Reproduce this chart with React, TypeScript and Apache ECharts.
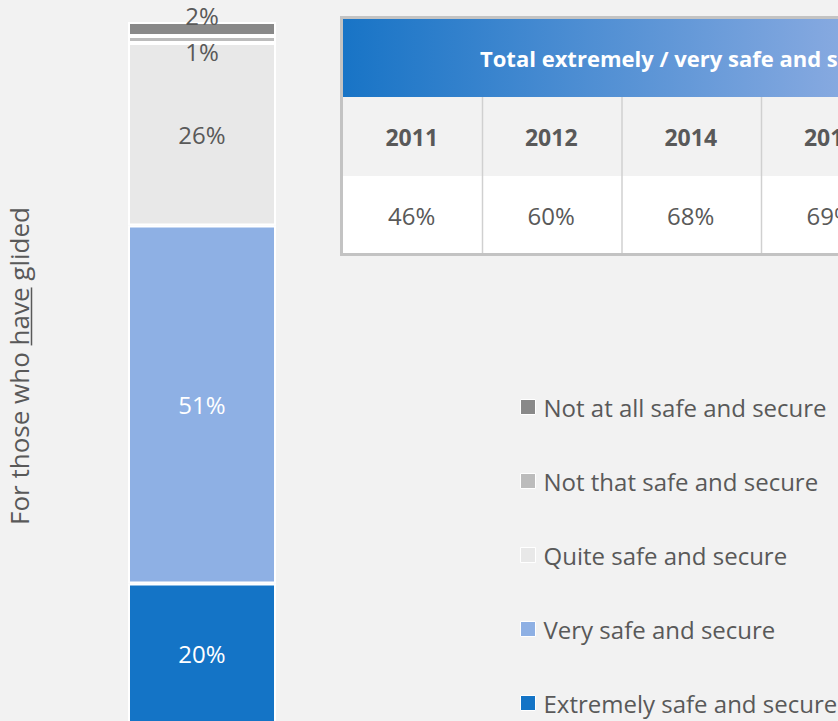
import React, { useEffect, useRef } from 'react';
import * as echarts from 'echarts';

const categories = ['For those who have glided'];
const seriesNames = [
  'Extremely safe and secure',
  'Very safe and secure',
  'Quite safe and secure',
  'Not that safe and secure',
  'Not at all safe and secure',
];
const seriesValues = [20, 51, 26, 1, 2];
const seriesColors = ['#1474c6', '#8eb0e4', '#e8e8e8', '#bcbcbc', '#898989'];
const labelColors = ['#ffffff', '#ffffff', '#595959', '#595959', '#595959'];
const legendOrder = [...seriesNames].reverse();

const titleParts = ['For those who ', 'have', ' glided'];
const tableTitle = 'Total extremely / very safe and secure';
const tableYears = ['2011', '2012', '2014', '2016'];
const tableValues = ['46%', '60%', '68%', '69%'];

const FONT = '"Open Sans", sans-serif';
const GREY = '#595959';

function measure(text: string, font: string): number {
  const c = document.createElement('canvas').getContext('2d');
  if (!c) return text.length * 12;
  c.font = font;
  return c.measureText(text).width;
}

export default function App() {
  const ref = useRef<HTMLDivElement>(null);
  useEffect(() => {
    if (!ref.current) return;
    const chart = echarts.init(ref.current, undefined, { renderer: 'svg' });

    // rotated y title with underline on "have"
    const tFont = `26px ${FONT}`;
    const w = titleParts.map((p) => measure(p, '26px "Open Sans"'));
    const total = w.reduce((a, b) => a + b, 0);
    let cx = -total / 2;
    const titleChildren: any[] = [];
    titleParts.forEach((p, i) => {
      titleChildren.push({
        type: 'text',
        x: cx,
        y: 0,
        style: { text: p, font: tFont, fill: GREY, align: 'left', verticalAlign: 'middle' },
      });
      if (i === 1) {
        titleChildren.push({
          type: 'line',
          shape: { x1: cx, y1: 12.5, x2: cx + w[i], y2: 12.5 },
          style: { stroke: GREY, lineWidth: 1.5 },
        });
      }
      cx += w[i];
    });

    // table
    const tx = 343;
    const colW = 139.5;
    const tableEls: any[] = [
      {
        type: 'rect',
        shape: { x: tx, y: 19, width: 495, height: 78 },
        style: {
          fill: new echarts.graphic.LinearGradient(0, 0, 1, 0, [
            { offset: 0, color: '#1874c6' },
            { offset: 1, color: '#86a9e0' },
          ]),
        },
      },
      { type: 'rect', shape: { x: tx, y: 97, width: 495, height: 79 }, style: { fill: '#f2f2f2' } },
      { type: 'rect', shape: { x: tx, y: 176, width: 495, height: 77 }, style: { fill: '#ffffff' } },
      {
        type: 'rect',
        shape: { x: 341.5, y: 17.5, width: 800, height: 237 },
        style: { fill: 'none', stroke: '#c3c3c3', lineWidth: 3 },
      },
      {
        type: 'text',
        x: 480,
        y: 58,
        style: {
          text: tableTitle,
          font: `bold 22px ${FONT}`,
          fill: '#ffffff',
          align: 'left',
          verticalAlign: 'middle',
        },
      },
    ];
    tableYears.forEach((yr, i) => {
      const c = tx + colW * i + colW / 2 - 1;
      if (i > 0) {
        tableEls.push({
          type: 'line',
          shape: { x1: tx + colW * i, y1: 97, x2: tx + colW * i, y2: 253 },
          style: { stroke: '#d0d0d0', lineWidth: 1.5 },
        });
      }
      tableEls.push({
        type: 'text',
        x: c,
        y: 137,
        style: { text: yr, font: `bold 23px ${FONT}`, fill: GREY, align: 'center', verticalAlign: 'middle' },
      });
      tableEls.push({
        type: 'text',
        x: c,
        y: 215,
        style: { text: tableValues[i], font: `24px ${FONT}`, fill: GREY, align: 'center', verticalAlign: 'middle' },
      });
    });

    const series = seriesNames.map((name, i) => {
      let label: any = {
        show: true,
        position: 'inside',
        formatter: '{c}%',
        color: labelColors[i],
        fontSize: 24,
        fontFamily: FONT,
      };
      if (i === 3) label = { ...label, position: 'bottom', distance: -4 };
      if (i === 4) label = { ...label, position: 'top', distance: -5 };
      return {
        name,
        type: 'bar',
        stack: 'total',
        barWidth: 148,
        data: [seriesValues[i]],
        itemStyle: { color: seriesColors[i], borderColor: '#ffffff', borderWidth: 2 },
        label,
      };
    });

    chart.setOption({
      animation: false,
      backgroundColor: '#f2f2f2',
      grid: { left: 127, width: 150, top: 22, height: 702 },
      xAxis: { type: 'category', data: categories, show: false },
      yAxis: { type: 'value', min: 0, max: 100, show: false },
      legend: {
        orient: 'vertical',
        left: 515,
        top: 390,
        data: legendOrder,
        icon: 'rect',
        itemWidth: 15,
        itemHeight: 15,
        itemGap: 50,
        selectedMode: false,
        itemStyle: { borderColor: '#ffffff', borderWidth: 1 },
        textStyle: { color: GREY, fontSize: 24, fontFamily: FONT, lineHeight: 24, padding: [0, 0, 0, 3] },
      },
      series,
      graphic: [
        ...tableEls,
        {
          type: 'group',
          x: 19,
          y: 366,
          rotation: Math.PI / 2,
          children: titleChildren,
        },
      ],
    });
    return () => chart.dispose();
  }, []);

  return (
    <div style={{ position: 'absolute', left: 0, top: 0, width: 838, height: 721, overflow: 'hidden', background: '#f2f2f2' }}>
      <div ref={ref} style={{ width: 838, height: 740 }} />
    </div>
  );
}
